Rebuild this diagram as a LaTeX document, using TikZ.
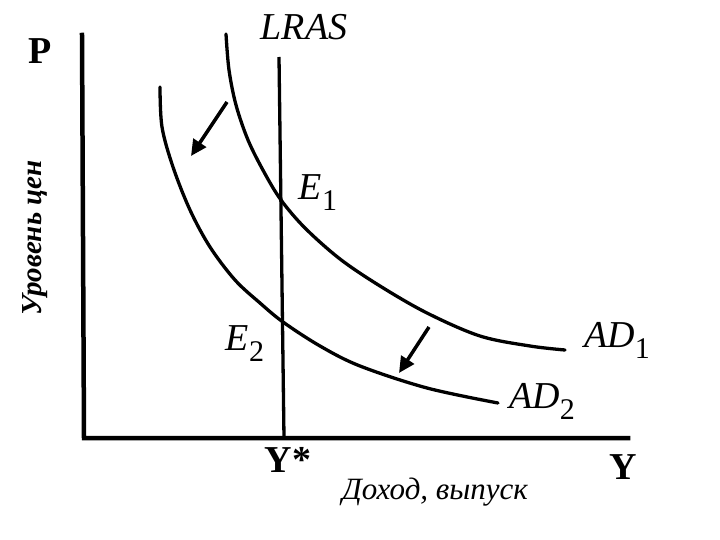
\documentclass[tikz,border=0pt]{standalone}
\usepackage{fontspec}
\setmainfont{Liberation Serif}
\usetikzlibrary{arrows.meta}
\newcommand{\sublab}[2]{{\itshape #1}\raisebox{-11pt}{\fontsize{30}{30}\selectfont #2}}
\tikzset{
  axisline/.style={line width=4.5pt, line cap=rect},
  curveline/.style={line width=3.3pt, line cap=round},
  shiftarrow/.style={line width=3.5pt, -{Triangle[length=16pt,width=15pt]}},
  biglab/.style={font=\fontsize{38}{38}\selectfont, inner sep=0pt},
  boldlab/.style={font=\fontsize{38}{38}\selectfont\bfseries, inner sep=0pt},
  ruslab/.style={font=\fontsize{31}{31}\selectfont\itshape, inner sep=0pt}
}
\begin{document}
\begin{tikzpicture}[x=1pt,y=-1pt]
\useasboundingbox (0,0) rectangle (720,540);
% axes
\coordinate (ytop) at (82,35);
\coordinate (orig) at (84,438);
\coordinate (xend) at (628,438);
\draw[axisline] (ytop) -- (orig) -- (xend);
% LRAS
\coordinate (lrastop) at (279,57);
\coordinate (lrasbot) at (284,438);
\draw[line width=3.3pt] (lrastop) -- (lrasbot);
% AD1
\draw[curveline] plot[smooth, tension=0.55] coordinates {(226,34) (229,70) (236,105) (248,140) (264,172) (281,200) (305,228) (340,259) (380,286) (427,313) (480,336) (530,346) (565,350)};
% AD2
\draw[curveline] plot[smooth, tension=0.55] coordinates {(160,87) (162,127) (173,167) (190,210) (210,247) (235,280) (260,303) (283,322) (320,346) (360,366) (427,388) (498,403)};
% shift arrows
\coordinate (a1s) at (227,102);
\coordinate (a1e) at (191,156);
\coordinate (a2s) at (429,327);
\coordinate (a2e) at (399,373);
\draw[shiftarrow] (a1s) -- (a1e);
\draw[shiftarrow] (a2s) -- (a2e);
% labels
\node[biglab] (lras) at (304,27) {\itshape LRAS};
\node[boldlab] (p) at (40,51) {P};
\node[biglab] (e1) at (318,193) {\sublab{E}{1}};
\node[biglab] (e2) at (245,344) {\sublab{E}{2}};
\node[biglab] (ad1) at (617,340) {\sublab{AD}{1}};
\node[biglab] (ad2) at (542,401) {\sublab{AD}{2}};
\node[boldlab] (ystar) at (288,460) {Y*};
\node[boldlab] (y) at (623,467) {Y};
\node[ruslab] (xlab) at (435,492) {Доход, выпуск};
\node[font=\fontsize{29}{29}\selectfont\bfseries\itshape, inner sep=0pt, rotate=90] (ylab) at (35,238) {Уровень цен};
\end{tikzpicture}
\end{document}
